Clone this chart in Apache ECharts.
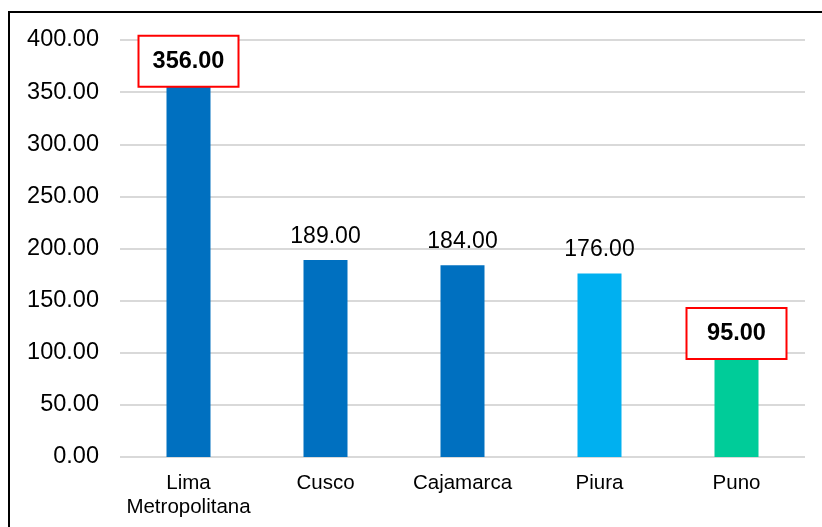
<!DOCTYPE html>
<html><head><meta charset="utf-8">
<script src="https://cdn.jsdelivr.net/npm/echarts@6/dist/echarts.min.js"></script>
<style>html,body{margin:0;padding:0;background:#fff}#frame{position:absolute;left:8px;top:11px;width:830px;height:530px;border:2px solid #000;box-sizing:border-box}#c{position:absolute;left:0;top:0;width:822px;height:527px}</style>
</head><body><div id="frame"></div><div id="c"></div>
<script>
const categories = ['Lima\nMetropolitana', 'Cusco', 'Cajamarca', 'Piura', 'Puno'];
const values = [356, 189, 184, 176, 95];
const colors = ['#0070C0', '#0070C0', '#0070C0', '#00B0F0', '#00CC99'];
const highlighted = [true, false, false, false, true];

const chart = echarts.init(document.getElementById('c'), null, {renderer: 'canvas'});
const data = values.map((v, i) => {
  const item = {value: v, itemStyle: {color: colors[i]}};
  if (highlighted[i]) {
    item.label = {
      fontWeight: 'bold', fontSize: 23.5, color: '#000',
      backgroundColor: '#fff', borderColor: '#FF0000', borderWidth: 2,
      width: 72, align: 'center',
      padding: [13, 13, 12, 13], distance: 0
    };
  }
  return item;
});
chart.setOption({
  animation: false,
  grid: {left: 120, right: 17, top: 40, bottom: 70, containLabel: false},
  xAxis: {
    type: 'category', data: categories,
    axisLine: {show: false}, axisTick: {show: false},
    axisLabel: {interval: 0, fontFamily: 'Liberation Sans', fontSize: 20.5, color: '#000', lineHeight: 24, margin: 14}
  },
  yAxis: {
    type: 'value', min: 0, max: 400, interval: 50,
    axisLine: {show: false}, axisTick: {show: false},
    splitLine: {lineStyle: {color: '#D9D9D9', width: 2}},
    axisLabel: {fontFamily: 'Liberation Sans', fontSize: 23.5, color: '#000', margin: 21,
      formatter: v => v.toFixed(2)}
  },
  series: [{
    type: 'bar', data: data, barWidth: 44,
    label: {show: true, position: 'top', distance: 12, fontFamily: 'Liberation Sans', fontSize: 23, color: '#000',
      formatter: p => p.value.toFixed(2)}
  }]
});
</script></body></html>
